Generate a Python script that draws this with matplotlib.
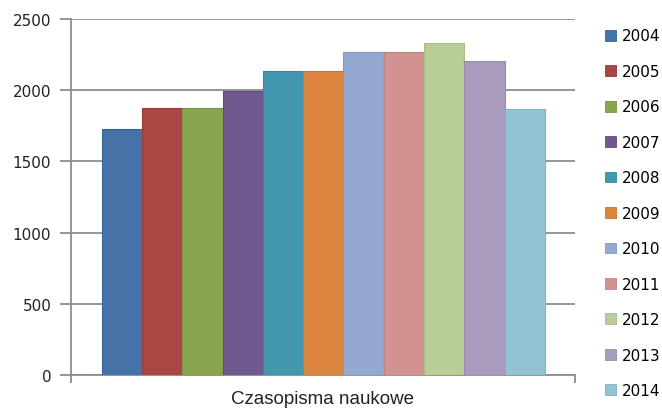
import matplotlib.pyplot as plt
from matplotlib.patches import Patch

years = ['2004', '2005', '2006', '2007', '2008', '2009',
         '2010', '2011', '2012', '2013', '2014']
values = [1730, 1875, 1872, 1995, 2135, 2133, 2266, 2265, 2330, 2205, 1868]
colors = ['#4573A7', '#AA4643', '#89A54E', '#71588F', '#4198AF', '#DB843D',
          '#93A9CF', '#D19392', '#B9CD96', '#A99BBD', '#92C3D4']
edges = ['#3A6496', '#983C3A', '#789444', '#624C7E', '#38879C', '#C87534',
         '#8299BF', '#C18180', '#A8BC85', '#988AAC', '#81B2C3']
yticks = [0, 500, 1000, 1500, 2000, 2500]
xlabel = 'Czasopisma naukowe'

fig = plt.figure(figsize=(6.62, 4.10), dpi=100)
ax = fig.add_axes([0.1068, 0.0829, 0.7618, 0.8683])

for i in range(len(years)):
    ax.bar(i, values[i], width=1.0, color=colors[i], edgecolor=edges[i],
           linewidth=0.8, zorder=3)

ax.set_ylim(0, 2500)
ax.set_xlim(-1.27, 11.25)
ax.set_yticks(yticks)
ax.set_yticklabels([str(t) for t in yticks], fontsize=11, family='DejaVu Sans')
ax.yaxis.grid(True, color='#8c8c8c', linewidth=1.3, zorder=0)
ax.set_axisbelow(True)

ax.set_xticks([-1.27, 11.25])
ax.set_xticklabels(['', ''])
ax.tick_params(axis='x', direction='out', length=6, color='#8c8c8c', width=1.3,
               pad=0)
ax.tick_params(axis='y', direction='out', length=8, color='#8c8c8c', width=1.3,
               pad=6, labelcolor='#222222')

for s in ['top', 'right']:
    ax.spines[s].set_visible(False)
for s in ['left', 'bottom']:
    ax.spines[s].set_color('#8c8c8c')
    ax.spines[s].set_linewidth(1.3)

ax.set_xlabel(xlabel, fontsize=13.5, family='Liberation Sans', labelpad=5,
              color='#222222')

handles = [Patch(facecolor=colors[i], edgecolor=edges[i], linewidth=0.6)
           for i in range(len(years))]
fig.legend(handles, years, loc='upper left', bbox_to_anchor=(0.905, 0.943),
           frameon=False, fontsize=11, handlelength=0.72, handleheight=0.72,
           handletextpad=0.4, labelspacing=1.34, borderaxespad=0)

fig.savefig('out.png', dpi=100)
